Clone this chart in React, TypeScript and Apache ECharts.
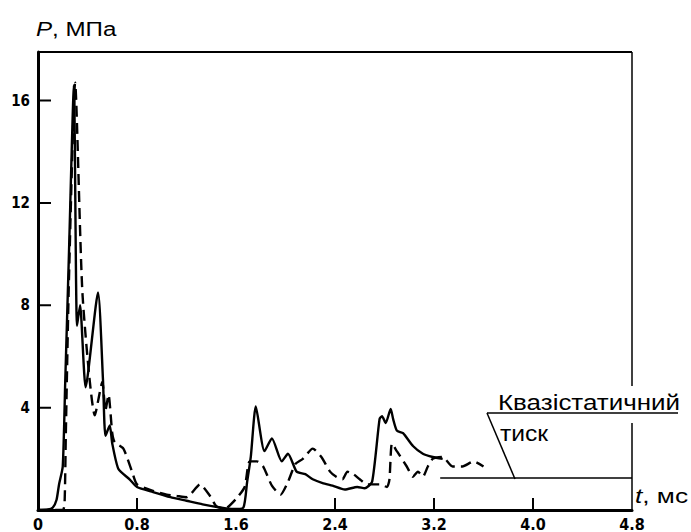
import React, { useEffect, useRef } from "react";
import * as echarts from "echarts";

// Pressure P (MPa) against time t (ms)
const solidCurve: [number, number][] = [
  [0, 0], [0.08, 0.02], [0.12, 0.1], [0.15, 0.4], [0.17, 1.0], [0.2, 1.7],
  [0.22, 5], [0.25, 10], [0.29, 16.6], [0.315, 7.2], [0.34, 8.0], [0.385, 4.8],
  [0.485, 8.5], [0.525, 5.1], [0.545, 2.9], [0.58, 3.3], [0.6, 2.6], [0.65, 1.6],
  [0.74, 1.2], [0.8, 0.9], [0.93, 0.7], [1.07, 0.5], [1.2, 0.36], [1.33, 0.22],
  [1.47, 0.1], [1.58, 0.04], [1.66, 0.1], [1.69, 1.1], [1.72, 2.1], [1.76, 4.05],
  [1.83, 2.3], [1.89, 2.8], [1.97, 1.9], [2.02, 2.2], [2.09, 1.5], [2.16, 1.4],
  [2.22, 1.2], [2.3, 1.05], [2.38, 0.95], [2.48, 0.8], [2.58, 0.9], [2.64, 0.85],
  [2.7, 1.1], [2.76, 3.55], [2.78, 3.67], [2.81, 3.4], [2.85, 3.95], [2.87, 3.55],
  [2.9, 3.1], [2.95, 3.0], [3.03, 2.5], [3.11, 2.2], [3.19, 2.07], [3.27, 2.0],
];

const dashedCurve: [number, number][] = [
  [0, 0], [0.2, 0], [0.215, 0.3], [0.225, 3], [0.25, 9], [0.3, 16.7], [0.36, 8.4],
  [0.46, 3.7], [0.52, 5.0], [0.545, 3.9], [0.57, 4.5], [0.6, 3.0], [0.62, 2.65],
  [0.69, 2.4], [0.76, 1.5], [0.8, 1.0], [0.93, 0.75], [1.04, 0.6], [1.12, 0.55],
  [1.2, 0.5], [1.31, 1.0], [1.39, 0.55], [1.44, 0.15], [1.51, 0.05], [1.6, 0.43],
  [1.67, 0.9], [1.71, 1.9], [1.77, 1.9], [1.82, 1.7], [1.89, 0.95], [1.96, 0.6],
  [2.02, 1.1], [2.08, 1.8], [2.14, 2.0], [2.22, 2.4], [2.29, 2.07], [2.36, 1.5],
  [2.41, 1.3], [2.46, 1.2], [2.5, 1.5], [2.55, 1.4], [2.6, 1.2], [2.66, 1.0],
  [2.76, 1.0], [2.82, 0.9], [2.84, 1.2], [2.86, 2.6], [2.9, 2.3], [2.98, 1.7],
  [3.03, 1.3], [3.07, 1.5], [3.11, 1.3], [3.15, 1.7], [3.19, 2.0], [3.27, 2.07],
  [3.35, 1.7], [3.43, 1.7], [3.52, 1.9], [3.6, 1.7],
];

// Quasi-static pressure level
const quasiStatic: [number, number][] = [[3.25, 1.25], [4.8, 1.25]];

// Inward tick marks
const xTickValues = [0.8, 2.4, 3.2, 4.0];
const yTickValues = [4, 8, 12, 16];

const NARROW = "'Liberation Sans Narrow', 'DejaVu Sans Condensed', sans-serif";
const SANS = "'Liberation Sans', Arial, sans-serif";

const GRID = { left: 38, top: 52, right: 59, bottom: 21 };
const X_MAX = 4.8;
const Y_MAX = 17.9;

export default function App() {
  const ref = useRef<HTMLDivElement>(null);

  useEffect(() => {
    if (!ref.current) return;
    const chart = echarts.init(ref.current, undefined, { renderer: "svg" });
    const W = 691;
    const H = 532;
    const rightX = W - GRID.right;
    const bottomY = H - GRID.bottom;
    const plotW = W - GRID.left - GRID.right;
    const plotH = H - GRID.top - GRID.bottom;

    // tick lengths expressed in axis units (12-13 px)
    const xTickLen = (12 / plotH) * Y_MAX;
    const yTickLen = (13 / plotW) * X_MAX;

    const tickSegments: (number | string)[][] = [];
    xTickValues.forEach((t) => {
      tickSegments.push([t, 0], [t, xTickLen], ["-", "-"]);
    });
    yTickValues.forEach((p) => {
      tickSegments.push([0, p], [yTickLen, p], ["-", "-"]);
    });

    const italicRich = {
      i: { fontStyle: "italic", fontSize: 21, fontFamily: SANS, fill: "#000" },
    };

    chart.setOption({
      animation: false,
      backgroundColor: "#fff",
      grid: { ...GRID, containLabel: false },
      xAxis: {
        type: "value",
        min: 0,
        max: X_MAX,
        interval: 0.8,
        splitLine: { show: false },
        axisLine: { show: true, onZero: false, lineStyle: { color: "#000", width: 3 } },
        axisTick: { show: false },
        axisLabel: {
          show: true,
          margin: 6,
          color: "#000",
          fontFamily: NARROW,
          fontWeight: "bold",
          fontSize: 16,
          formatter: (v: number) => (v === 0 ? "0" : v.toFixed(1)),
        },
      },
      yAxis: {
        type: "value",
        min: 0,
        max: Y_MAX,
        interval: 4,
        splitLine: { show: false },
        axisLine: { show: true, onZero: false, lineStyle: { color: "#000", width: 3 } },
        axisTick: { show: false },
        axisLabel: {
          show: true,
          margin: 8,
          color: "#000",
          fontFamily: NARROW,
          fontWeight: "bold",
          fontSize: 15,
          formatter: (v: number) => (yTickValues.includes(v) ? String(v) : ""),
        },
      },
      series: [
        {
          type: "line",
          data: solidCurve,
          symbol: "none",
          smooth: 0.2,
          lineStyle: { color: "#000", width: 2.4 },
        },
        {
          type: "line",
          data: dashedCurve,
          symbol: "none",
          smooth: 0.2,
          lineStyle: { color: "#000", width: 2.4, type: [11, 6] },
        },
        {
          type: "line",
          data: quasiStatic,
          symbol: "none",
          lineStyle: { color: "#000", width: 1.5 },
        },
        {
          type: "line",
          data: tickSegments,
          symbol: "none",
          connectNulls: false,
          silent: true,
          lineStyle: { color: "#000", width: 2 },
        },
      ],
      graphic: [
        // top and right frame
        {
          type: "line",
          shape: { x1: GRID.left, y1: GRID.top, x2: rightX, y2: GRID.top },
          style: { stroke: "#000", lineWidth: 2 },
        },
        {
          type: "line",
          shape: { x1: rightX, y1: GRID.top, x2: rightX, y2: 386 },
          style: { stroke: "#000", lineWidth: 1.5 },
        },
        {
          type: "line",
          shape: { x1: rightX, y1: 423, x2: rightX, y2: bottomY },
          style: { stroke: "#000", lineWidth: 1.5 },
        },
        // y axis title
        {
          type: "text",
          x: 36,
          y: 29,
          scaleX: 1.15,
          style: {
            text: "{i|P}, МПа",
            fill: "#000",
            font: `21px ${SANS}`,
            textVerticalAlign: "middle",
            rich: italicRich,
          },
        },
        // x axis title
        {
          type: "text",
          x: 635,
          y: 495,
          scaleX: 1.25,
          style: {
            text: "{i|t}, мс",
            fill: "#000",
            font: `21px ${SANS}`,
            textVerticalAlign: "middle",
            rich: italicRich,
          },
        },
        // quasi-static annotation
        {
          type: "text",
          x: 498,
          y: 402,
          scaleX: 1.18,
          style: {
            text: "Квазістатичний",
            fill: "#000",
            font: `22px ${SANS}`,
            textVerticalAlign: "middle",
          },
        },
        {
          type: "line",
          shape: { x1: 487, y1: 413, x2: 678, y2: 413 },
          style: { stroke: "#000", lineWidth: 1.5 },
        },
        {
          type: "line",
          shape: { x1: 487, y1: 413, x2: 515, y2: 479 },
          style: { stroke: "#000", lineWidth: 1.5 },
        },
        {
          type: "text",
          x: 500,
          y: 433,
          scaleX: 1.12,
          style: {
            text: "тиск",
            fill: "#000",
            font: `22px ${SANS}`,
            textVerticalAlign: "middle",
          },
        },
      ],
    });

    return () => chart.dispose();
  }, []);

  return (
    <div
      ref={ref}
      style={{ position: "fixed", left: 0, top: 0, width: 691, height: 532, background: "#fff" }}
    />
  );
}
